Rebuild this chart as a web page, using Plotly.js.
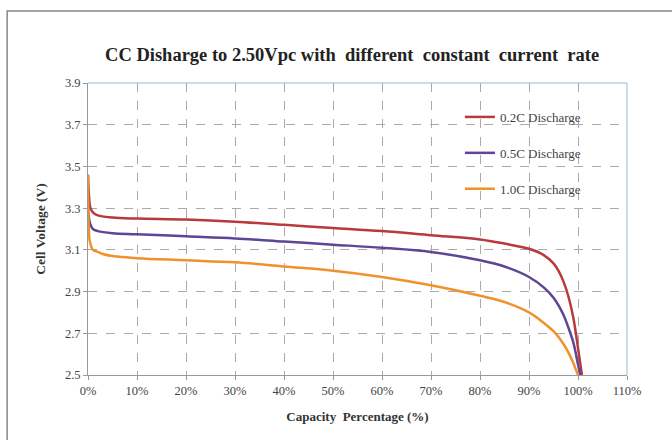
<!DOCTYPE html>
<html><head><meta charset="utf-8">
<script src="https://cdn.plot.ly/plotly-3.0.1.min.js"></script>
<style>html,body{margin:0;padding:0;background:#fff}</style>
</head><body><div id="chart" style="width:672px;height:440px"></div>
<script>
const cap02 = [0, 0.2, 0.5, 1, 2, 5, 10, 20, 30, 40, 50, 60, 70, 80, 85, 90, 93, 95, 96, 97, 98, 99, 99.5, 100, 100.5, 100.8];
const v02   = [3.46, 3.36, 3.30, 3.28, 3.265, 3.255, 3.25, 3.245, 3.235, 3.22, 3.205, 3.19, 3.17, 3.15, 3.13, 3.105, 3.075, 3.035, 3.0, 2.95, 2.88, 2.78, 2.71, 2.63, 2.55, 2.5];
const cap05 = [0, 0.2, 0.5, 1, 2, 5, 10, 20, 30, 40, 50, 60, 70, 80, 85, 90, 93, 95, 97, 98, 99, 99.5, 100, 100.5];
const v05   = [3.30, 3.25, 3.22, 3.20, 3.19, 3.18, 3.175, 3.165, 3.155, 3.14, 3.125, 3.11, 3.09, 3.05, 3.02, 2.97, 2.92, 2.87, 2.79, 2.73, 2.66, 2.61, 2.55, 2.5];
const cap10 = [0, 0.1, 0.3, 0.6, 1, 2, 3, 5, 10, 20, 30, 40, 50, 60, 70, 80, 85, 90, 93, 95, 97, 98, 99, 99.5, 100];
const v10   = [3.46, 3.25, 3.15, 3.12, 3.10, 3.09, 3.08, 3.07, 3.06, 3.05, 3.04, 3.02, 3.00, 2.97, 2.93, 2.88, 2.85, 2.80, 2.75, 2.71, 2.65, 2.61, 2.56, 2.53, 2.5];
const names = ["0.2C Discharge", "0.5C Discharge", "1.0C Discharge"];
const xTicks = [0,10,20,30,40,50,60,70,80,90,100,110];
const xTickText = xTicks.map(t => t + "%");
const yTicks = [2.5,2.7,2.9,3.1,3.3,3.5,3.7,3.9];

const serif = "Liberation Serif, Times New Roman, serif";
const traces = [
  {x: cap02, y: v02, name: names[0], legendgroup: "a", line: {color: "#b73a3d", width: 2.5, shape: "spline"}},
  {x: cap05, y: v05, name: names[1], legendgroup: "b", line: {color: "#5e4595", width: 2.5, shape: "spline"}},
  {x: cap10, y: v10, name: names[2], legendgroup: "c", line: {color: "#f0922b", width: 2.5, shape: "spline"}}
].map(t => Object.assign({type: "scatter", mode: "lines"}, t));

const layout = {
  width: 672, height: 440,
  margin: {l: 88, r: 45, t: 83, b: 65},
  paper_bgcolor: "#fff", plot_bgcolor: "#fff",
  title: {text: "<b>CC Disharge to 2.50Vpc with  different  constant  current  rate</b>",
          font: {family: serif, size: 18.5, color: "#222"}, xref: "paper", x: 0.49, xanchor: "center", y: 0.875, yanchor: "middle"},
  xaxis: {range: [0, 110], tickvals: xTicks, ticktext: xTickText,
          showgrid: true, gridcolor: "#aaa", griddash: "dash", gridwidth: 1,
          showline: true, linecolor: "#999", linewidth: 1, ticks: "outside", ticklen: 4, tickcolor: "#999",
          zeroline: false, tickfont: {family: serif, size: 12.5, color: "#444"},
          title: {text: "<b>Capacity  Percentage (%)</b>", font: {family: serif, size: 13, color: "#333"}, standoff: 14}},
  yaxis: {range: [2.5, 3.9], tickvals: yTicks, ticktext: yTicks.map(v => v.toFixed(1)),
          showgrid: true, gridcolor: "#aaa", griddash: "dash", gridwidth: 1,
          showline: true, linecolor: "#999", linewidth: 1, ticks: "outside", ticklen: 4, tickcolor: "#999",
          zeroline: false, tickfont: {family: serif, size: 12.5, color: "#444"},
          title: {text: "<b>Cell Voltage (V)</b>", font: {family: serif, size: 13.5, color: "#333"}, standoff: 16}},
  showlegend: true,
  legend: {x: 0.69, y: 0.935, xanchor: "left", yanchor: "top", bgcolor: "rgba(0,0,0,0)",
           font: {family: serif, size: 13, color: "#444"}, tracegroupgap: 16, itemwidth: 30},
  shapes: [
    {type: "line", xref: "paper", yref: "paper", x0: 0, x1: 1, y0: 1, y1: 1, line: {color: "#8fbfdc", width: 1}},
    {type: "line", xref: "paper", yref: "paper", x0: 1, x1: 1, y0: 0, y1: 1, line: {color: "#8fbfdc", width: 1}},
    {type: "rect", xref: "paper", yref: "paper", x0: -0.150, x1: 1.2, y0: -0.4, y1: 1.2466, line: {color: "#888", width: 1.5}}
  ]
};
Plotly.newPlot("chart", traces, layout, {displayModeBar: false, staticPlot: true});
</script></body></html>
